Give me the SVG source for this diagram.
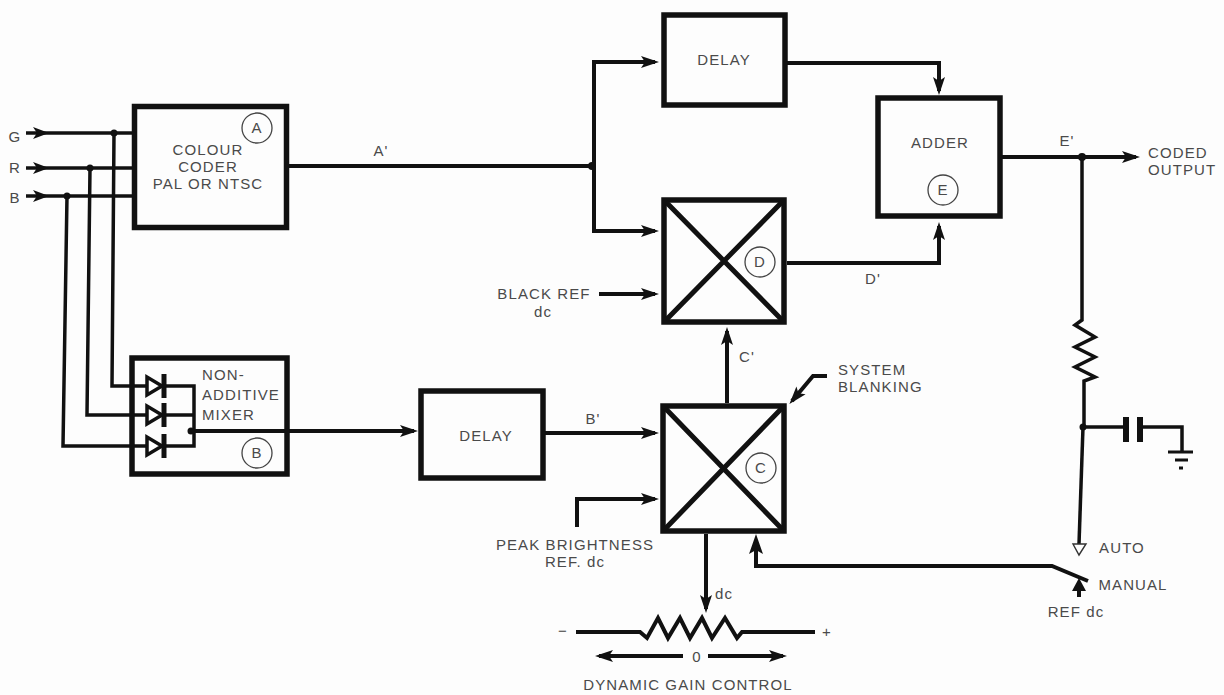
<svg xmlns="http://www.w3.org/2000/svg" width="1224" height="695" viewBox="0 0 1224 695">
<style>
text{font-family:"Liberation Sans",Arial,sans-serif;font-size:15px;fill:#4a4a4a;text-anchor:middle;letter-spacing:1.1px}
.s{text-anchor:start}
.b{fill:none;stroke:#111;stroke-width:5.5}
.l{fill:none;stroke:#111;stroke-width:4}
.t{fill:none;stroke:#111;stroke-width:3.5}
.c{fill:none;stroke:#444;stroke-width:1.3}
.x{fill:none;stroke:#111;stroke-width:5}
.j{fill:#111}
</style>
<defs>
<marker id="a" markerUnits="userSpaceOnUse" markerWidth="22" markerHeight="16" refX="14" refY="7" orient="auto"><path d="M0 1L18 7L0 13L4 7Z" fill="#111"/></marker>
<g id="d"><path d="M0 -9L0 9L15 0Z" fill="#fff" stroke="#111" stroke-width="3.5"/><path d="M17 -12V12" stroke="#111" stroke-width="5"/></g>
</defs>
<rect width="1224" height="695" fill="#fdfdfd"/>
<g id="connectors">
<path class="t" d="M26 133H133"/><path class="t" d="M26 168H133"/><path class="t" d="M26 196H133"/>
<path class="j" d="M33 127L49 133L33 139L37 133Z M33 162L49 168L33 174L37 168Z M33 190L49 196L33 202L37 196Z"/>
<circle class="j" cx="114" cy="133" r="3.5"/><circle class="j" cx="90" cy="168" r="3.5"/><circle class="j" cx="67" cy="196" r="3.5"/>
<path class="t" d="M114 133L112 386H147"/><path class="t" d="M90 168L87 415H147"/><path class="t" d="M67 196L63 446H147"/>
<path class="l" d="M287 166H594"/><circle class="j" cx="592" cy="166" r="4"/>
<path class="l" d="M594 231V62H655" marker-end="url(#a)"/>
<path class="l" d="M594 166V231H655" marker-end="url(#a)"/>
<path class="l" d="M787 63H939V91" marker-end="url(#a)"/>
<path class="l" d="M787 263H939V226" marker-end="url(#a)"/>
<path class="l" d="M1002 157H1136" marker-end="url(#a)"/><circle class="j" cx="1082" cy="157" r="4"/>
<path class="l" d="M192 431H414" marker-end="url(#a)"/>
<path class="l" d="M545 433H655" marker-end="url(#a)"/>
<path class="l" d="M577 527V499H655" marker-end="url(#a)"/>
<path class="l" d="M727 403V331" marker-end="url(#a)"/>
<path class="l" d="M599 294H655" marker-end="url(#a)"/>
<path class="l" d="M827 376H813L792 401" marker-end="url(#a)"/>
<path class="l" d="M706 534V609" marker-end="url(#a)"/>
<path class="l" d="M756 540V566H1052L1088 581" />
<path class="j" d="M756 534L749 554L756 550L763 554Z"/>
<path class="t" d="M1082 157V320L1075 325L1095 337L1075 347L1095 357L1075 367L1095 377L1084 381V427"/>
<circle class="j" cx="1083" cy="427" r="3.5"/>
<path class="t" d="M1083 427H1126M1140 427H1182V452"/>
<path d="M1126 417V442M1140 417V442" stroke="#111" stroke-width="6" fill="none"/>
<path d="M1168 452H1193M1175 460H1188M1179 468H1183" stroke="#111" stroke-width="3" fill="none"/>
<path class="t" d="M1083 427L1079 544"/>
<path d="M1073 544H1086L1079 555Z" fill="#fff" stroke="#333" stroke-width="1.4"/>
<path class="l" d="M1079 584V597"/><path class="j" d="M1079 578L1072 591L1086 591Z"/>
<path class="l" d="M576 632H640L647 638L658 618L668 638L680 618L690 638L702 618L712 638L725 618L737 638L742 632H815"/>
<path class="l" d="M708 656H783" marker-end="url(#a)"/><path class="l" d="M683 656H599" marker-end="url(#a)"/>
</g>
<g id="node-a"><rect class="b" x="134.500" y="106.500" width="152" height="121"/><circle class="c" cx="257" cy="128" r="15"/><text x="257" y="133">A</text><text x="208" y="155">COLOUR</text><text x="208" y="172">CODER</text><text x="208" y="189">PAL OR NTSC</text></g>
<g id="node-b"><rect class="b" x="132" y="358" width="155" height="116"/><circle class="c" cx="257" cy="453" r="15"/><text x="257" y="458">B</text><text class="s" x="202" y="380">NON-</text><text class="s" x="202" y="400">ADDITIVE</text><text class="s" x="202" y="420">MIXER</text>
<use href="#d" x="147" y="386"/><use href="#d" x="147" y="415"/><use href="#d" x="147" y="446"/>
<path class="t" d="M164 386H194V446H164M164 415H194"/><circle class="j" cx="191" cy="431" r="3.500"/></g>
<g id="node-delay-b"><rect class="b" x="421" y="391" width="122" height="87"/><text x="486" y="441">DELAY</text></g>
<g id="node-delay-a"><rect class="b" x="664" y="15" width="121" height="90"/><text x="724" y="65">DELAY</text></g>
<g id="node-d"><rect class="b" x="664" y="200" width="120" height="122"/><path class="x" d="M666 202L782 320M782 202L666 320"/><circle class="c" cx="760" cy="262" r="15"/><text x="760" y="267">D</text></g>
<g id="node-c"><rect class="b" x="663" y="406" width="121" height="125"/><path class="x" d="M665 408L782 529M782 408L665 529"/><circle class="c" cx="761" cy="468" r="15"/><text x="761" y="473">C</text></g>
<g id="node-e"><rect class="b" x="878" y="98" width="122" height="118"/><circle class="c" cx="943" cy="190" r="15"/><text x="943" y="195">E</text><text x="940" y="148">ADDER</text></g>
<g id="labels">
<text x="15" y="142">G</text><text x="15" y="173">R</text><text x="15" y="203">B</text>
<text x="381" y="156">A'</text><text x="593" y="424">B'</text><text x="747" y="362">C'</text><text x="873" y="284">D'</text><text x="1067" y="146">E'</text>
<text class="s" x="1148" y="158">CODED</text><text class="s" x="1148" y="175">OUTPUT</text>
<text x="544" y="299">BLACK REF</text><text x="543" y="317">dc</text>
<text class="s" x="838" y="375">SYSTEM</text><text class="s" x="838" y="392">BLANKING</text>
<text x="575" y="550">PEAK BRIGHTNESS</text><text x="575" y="567">REF. dc</text>
<text x="1122" y="553">AUTO</text><text x="1133" y="590">MANUAL</text><text x="1076" y="617">REF dc</text>
<text x="724" y="599">dc</text><text x="563" y="636">−</text><text x="827" y="637">+</text><text x="697" y="662">0</text>
<text x="688" y="690">DYNAMIC GAIN CONTROL</text>
</g>
</svg>
